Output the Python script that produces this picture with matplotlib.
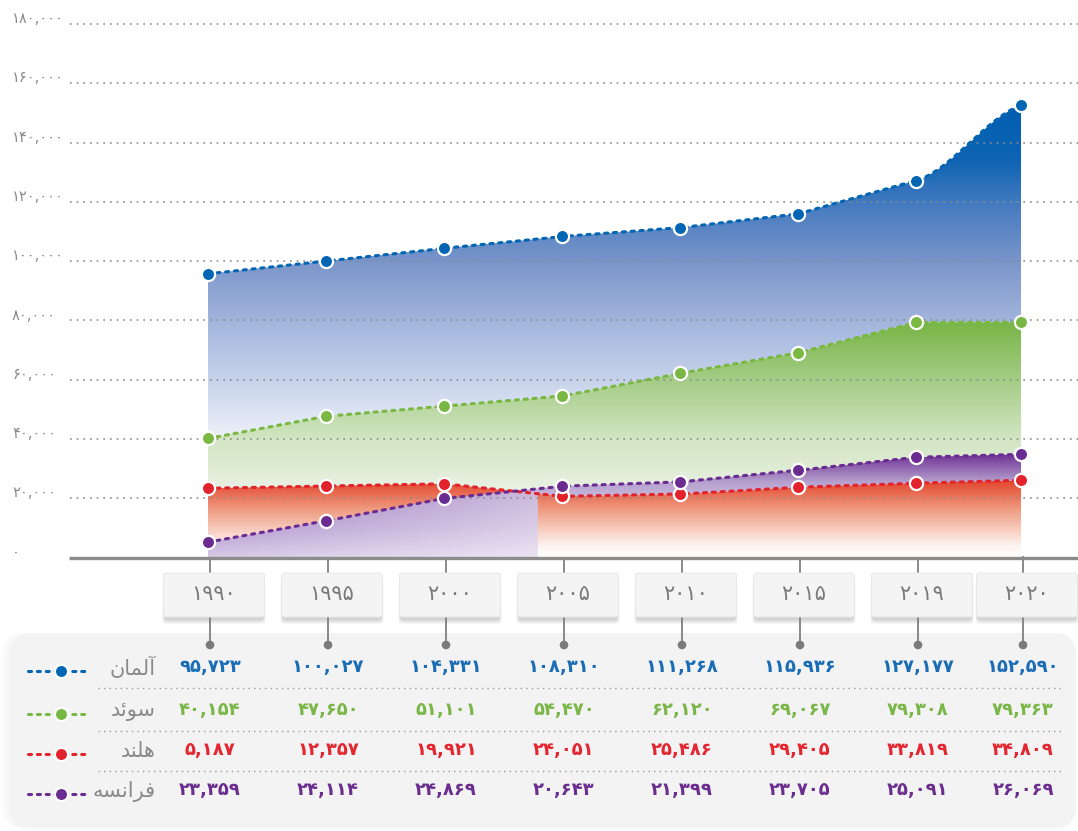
import numpy as np
import matplotlib
matplotlib.use("Agg")
import matplotlib.pyplot as plt
from matplotlib.patches import FancyBboxPatch, Polygon, Circle
from matplotlib.transforms import blended_transform_factory


years = ["1990", "1995", "2000", "2005", "2010", "2015", "2019", "2020"]
countries = ["آلمان", "سوئد", "هلند", "فرانسه"]
germany = [95723, 100027, 104331, 108310, 111268, 115936, 127177, 152590]
sweden = [40154, 47650, 51101, 54470, 62120, 69067, 79308, 79363]
netherlands = [5187, 12357, 19921, 24051, 25486, 29405, 33819, 34809]
france = [23359, 24114, 24869, 20643, 21399, 23705, 25091, 26069]
yticks = [0, 20000, 40000, 60000, 80000, 100000, 120000, 140000, 160000, 180000]

BLUE = "#0066b3"
GREEN = "#78b843"
RED = "#e3232b"
PURPLE = "#6a2c91"
GRAY = "#8a8a8a"

# last step is a single year, so it sits a bit closer
xpos = np.r_[np.arange(7), 6.89]

FA_DIGITS = str.maketrans("0123456789", "۰۱۲۳۴۵۶۷۸۹")


def fa(n):
    return f"{n:,}".translate(FA_DIGITS)


# (isolated, final, initial, medial); two entries = joins only to the right
FORMS = {
    "ا": (0xFE8D, 0xFE8E), "آ": (0xFE81, 0xFE82), "د": (0xFEA9, 0xFEAA),
    "ر": (0xFEAD, 0xFEAE), "و": (0xFEED, 0xFEEE),
    "ل": (0xFEDD, 0xFEDE, 0xFEDF, 0xFEE0), "م": (0xFEE1, 0xFEE2, 0xFEE3, 0xFEE4),
    "ن": (0xFEE5, 0xFEE6, 0xFEE7, 0xFEE8), "س": (0xFEB1, 0xFEB2, 0xFEB3, 0xFEB4),
    "ئ": (0xFE89, 0xFE8A, 0xFE8B, 0xFE8C), "ه": (0xFEE9, 0xFEEA, 0xFEEB, 0xFEEC),
    "ف": (0xFED1, 0xFED2, 0xFED3, 0xFED4),
}


def shape(word):
    out = []
    for i, ch in enumerate(word):
        f = FORMS[ch]
        joins_prev = i > 0 and len(FORMS[word[i - 1]]) == 4
        joins_next = i < len(word) - 1 and len(f) == 4
        out.append(chr(f[int(joins_prev) + 2 * int(joins_next)]))
    return "".join(reversed(out))


def curve(x, y, xs):
    # straight segments, with an eased S-bend on the last one
    x = np.asarray(x, float)
    y = np.asarray(y, float)
    out = np.interp(xs, x, y)
    h = x[-1] - x[-2]
    m0 = (y[-2] - y[-3]) / (x[-2] - x[-3])
    m1 = 0.5 * (y[-1] - y[-2]) / h
    sel = xs >= x[-2]
    t = (xs[sel] - x[-2]) / h
    out[sel] = ((2 * t**3 - 3 * t**2 + 1) * y[-2] + (t**3 - 2 * t**2 + t) * h * m0
                + (-2 * t**3 + 3 * t**2) * y[-1] + (t**3 - t**2) * h * m1)
    return out


def hex_rgb(c):
    return np.array([int(c[k:k + 2], 16) for k in (1, 3, 5)]) / 255


def gradient(ax, xs, top, bottom, stops, zorder, fade_to=None):
    vals = np.linspace(0, 180000, 500)
    sv = [s[0] for s in stops]
    cols = np.array([hex_rgb(s[1]) for s in stops])
    rgb = np.stack([np.interp(vals, sv, cols[:, k]) for k in range(3)], axis=-1)
    img = np.repeat(rgb[:, None, :], 60, axis=1)
    if fade_to is not None:
        w = np.linspace(0, fade_to, 60)[None, :, None]
        img = img * (1 - w) + w
    poly = Polygon(np.r_[np.c_[xs, top], np.c_[xs[::-1], bottom[::-1]]],
                   closed=True, fc="none", ec="none")
    ax.add_patch(poly)
    im = ax.imshow(img, origin="lower", aspect="auto", interpolation="bilinear",
                   extent=[xs[0], xs[-1], 0, 180000], zorder=zorder)
    im.set_clip_path(poly)


fig = plt.figure(figsize=(10.78, 8.31), dpi=100)
plt.rcParams["font.family"] = ["DejaVu Sans"]

lay = fig.add_axes([0, 0, 1, 1])
lay.set_xlim(0, 1078)
lay.set_ylim(831, 0)
lay.axis("off")

ax = fig.add_axes([0, (831 - 557.5) / 831, 1, 533.5 / 831])
ax.set_xlim(-208 / 118, 870 / 118)
ax.set_ylim(0, 180000)
ax.axis("off")
ax.patch.set_alpha(0)

xs = np.linspace(xpos[0], xpos[-1], 600)
ge = curve(xpos, germany, xs)
sw = np.interp(xs, xpos, sweden)
fr = np.interp(xs, xpos, france)
nl = np.interp(xs, xpos, netherlands)
zero = np.zeros_like(xs)

gradient(ax, xs, ge, sw, [(40000, "#edf1f9"), (73000, "#aebfe2"), (97000, "#8099cc"),
                          (117000, "#4a7dc1"), (134000, "#0e64b3"), (154000, "#005db0")], 1)
gradient(ax, xs, sw, zero, [(19000, "#eef4ea"), (40000, "#d2e5c2"), (60000, "#a4cc85"),
                            (80000, "#76b443")], 2)
gradient(ax, xs, fr, zero, [(0, "#ffffff"), (4000, "#fdf1ec"), (16000, "#ef9a80"),
                            (26000, "#e2422a")], 3)
upper = np.maximum(nl, fr)
gradient(ax, xs, upper, fr, [(20000, "#c8b8dc"), (25000, "#b7a2cf"), (35000, "#6a2c91")], 4)
left = xs <= 2.8
gradient(ax, xs[left], nl[left], zero[left],
         [(0, "#d6c8e6"), (10000, "#b59bd0"), (25000, "#8f68b4")], 4, fade_to=0.5)

# grid and baseline
for v in yticks:
    if v:
        ax.plot([70 / 118 - 208 / 118, 870 / 118], [v, v], ls=(0, (1, 3)), lw=1.2,
                color="#8c8c8c", zorder=5, clip_on=False)
    ax.text(12 / 1078, v + 1800, fa(v), transform=ax.get_yaxis_transform(),
            ha="left", va="center", fontsize=10.5, color=GRAY)
ax.plot([69 / 118 - 208 / 118, 870 / 118], [0, 0], color="#8c8c8c", lw=2.4,
        zorder=6, solid_capstyle="butt", clip_on=False)

lines = [(ge, germany, BLUE), (sw, sweden, GREEN),
         (fr, france, RED), (nl, netherlands, PURPLE)]
for i, (ly, vals, c) in enumerate(lines):
    ax.plot(xs, ly, color=c, lw=2.2, ls=(0, (1.0, 1.9)), dash_capstyle="round",
            zorder=7 + i, clip_on=False)
    ax.plot(xpos, vals, "o", ms=9.5, mfc=c, mec="white", mew=1.6,
            zorder=7.5 + i, clip_on=False)

# year boxes, connectors and the value table
colx = blended_transform_factory(ax.transData, lay.transData)
to_lay = lay.transData.inverted()
lay.add_patch(FancyBboxPatch((10, 633), 1066, 194, boxstyle="round,pad=0,rounding_size=22",
                             fc="#f3f3f3", ec="none", zorder=1))
for k in range(4):
    lay.add_patch(FancyBboxPatch((10 - 3 * k, 636 - k), 1066 + 3 * k, 194,
                                 boxstyle="round,pad=0,rounding_size=22",
                                 fc="#000000", ec="none", alpha=0.012, zorder=0.5))

cols_px = [to_lay.transform(colx.transform((x, 0)))[0] + 2 for x in xpos]
for px, lab in zip(cols_px, years):
    lay.plot([px, px], [557, 573], color="#808080", lw=1.3, zorder=2)
    lay.plot([px, px], [617, 645], color="#808080", lw=1.3, zorder=2)
    lay.add_patch(Circle((px, 645), 3.6, color="#7a7a7a", zorder=3))
    bx = px + 4 - 50.5
    for k in range(5):
        lay.add_patch(FancyBboxPatch((bx + 1 - k * 0.5, 576 + k), 99 + k, 44,
                                     boxstyle="round,pad=0,rounding_size=4",
                                     fc="#000000", ec="none", alpha=0.035, zorder=1.5))
    lay.add_patch(FancyBboxPatch((bx, 573), 101, 44, boxstyle="round,pad=0,rounding_size=3",
                                 fc="#f4f4f4", ec="#e6e6e6", lw=0.6, zorder=2))
    lay.text(px + 4, 594, lab.translate(FA_DIGITS), ha="center", va="center",
             fontsize=15, color="#7a7a7a", zorder=3)

rows = [(germany, BLUE, "#1a6db5"), (sweden, GREEN, "#7ab648"),
        (netherlands, RED, "#e3262f"), (france, PURPLE, "#6b2e8f")]
row_y = [667, 710, 750, 790]
for r, ((vals, c, tc), name, y) in enumerate(zip(rows, countries, row_y)):
    for px, v in zip(cols_px, vals):
        lay.text(px, y, fa(v), ha="center", va="center", fontsize=13,
                 fontweight="bold", color=tc, zorder=3)
    lay.plot([28, 88], [y + 4, y + 4], color=c, lw=2.2, ls=(0, (1.0, 1.9)),
             dash_capstyle="round", zorder=3)
    lay.plot([61], [y + 4], "o", ms=9.5, mfc=c, mec="white", mew=1.6, zorder=4)
    lay.text(156, y + 1, shape(name), ha="right", va="center", fontsize=15,
             color=GRAY, zorder=3)
    if r < 3:
        lay.plot([98, 1062], [y + 21, y + 21], ls=(0, (1, 3)), lw=1.0,
                 color="#9a9a9a", zorder=2)

fig.savefig("out.png", dpi=100)
